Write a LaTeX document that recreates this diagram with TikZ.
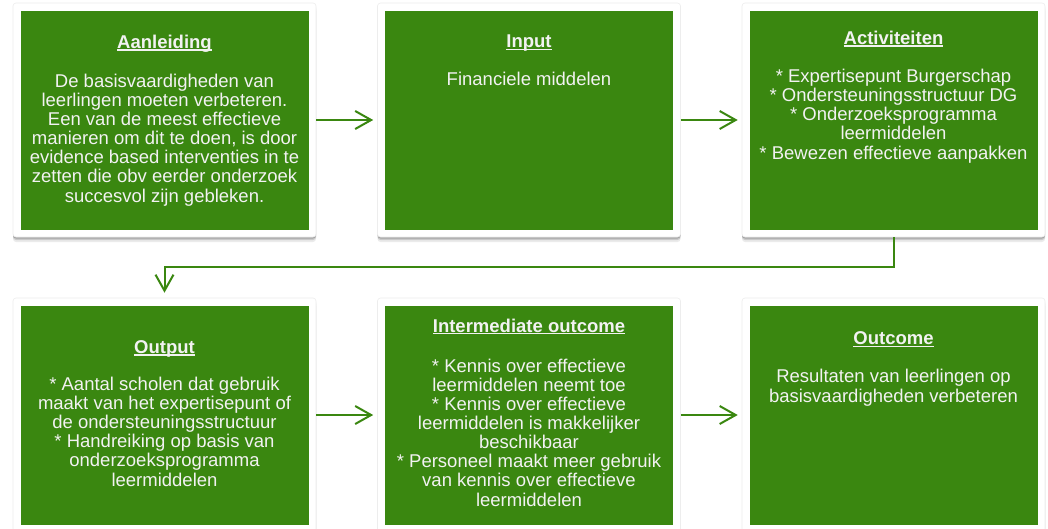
\documentclass[tikz,border=0pt]{standalone}
\usepackage{fontspec}
\setmainfont{Liberation Sans}
\usetikzlibrary{arrows.meta,shadows}
\definecolor{groen}{RGB}{58,135,16}
\definecolor{tekstwit}{RGB}{242,242,242}
\newsavebox{\kopbox}
\newcommand{\kop}[1]{\sbox{\kopbox}{\textbf{#1}}%
  \rlap{\rule[-2.2pt]{\wd\kopbox}{1.3pt}}\usebox{\kopbox}}
\tikzset{>={Straight Barb[length=16pt,width=18pt]}}

\begin{document}
\begin{tikzpicture}[x=1pt,y=-1pt,
  kader/.style={fill=white, draw=black!7, line width=0.6pt, rounded corners=3pt,
    minimum width=303pt, minimum height=234pt, inner sep=0pt,
    drop shadow={shadow xshift=0pt, shadow yshift=-1.5pt, opacity=0.18, fill=black},
    drop shadow={shadow xshift=0pt, shadow yshift=-3pt, opacity=0.14, fill=black},
    drop shadow={shadow xshift=0pt, shadow yshift=-5pt, opacity=0.08, fill=black}},
  vak/.style={fill=groen, minimum width=288pt, minimum height=219pt, inner sep=0pt},
  tekst/.style={text=tekstwit, align=center, anchor=base, inner sep=0pt,
    font=\fontsize{18.5}{19.1}\selectfont},
  pijl/.style={->, draw=groen, line width=2pt}]
\useasboundingbox (0,0) rectangle (1048,528);
\fill[white] (0,0) rectangle (1048,528);

% bovenste rij
\node[kader] (k1) at (164.5,120) {};
\node[vak] (v1) at (k1) {};
\node[kader] (k2) at (529,120) {};
\node[vak] (v2) at (k2) {};
\node[kader] (k3) at (893.5,120) {};
\node[vak] (v3) at (k3) {};

% onderste rij
\node[kader] (k4) at (164.5,415) {};
\node[vak] (v4) at (k4) {};
\node[kader] (k5) at (529,415) {};
\node[vak] (v5) at (k5) {};
\node[kader] (k6) at (893.5,415) {};
\node[vak] (v6) at (k6) {};

% teksten (onderste regel op de basislijn)
\node[tekst] (t1) at (164.5,202) {\kop{Aanleiding}\\[20pt]
  De basisvaardigheden van\\ leerlingen moeten verbeteren.\\
  Een van de meest effectieve\\ manieren om dit te doen, is door\\
  evidence based interventies in te\\ zetten die obv eerder onderzoek\\
  succesvol zijn gebleken.};
\node[tekst] (t2) at (529,85) {\kop{Input}\\[18pt] Financiele middelen};
\node[tekst] (t3) at (893.5,159) {\kop{Activiteiten}\\[19pt]
  * Expertisepunt Burgerschap\\ * Ondersteuningsstructuur DG\\
  * Onderzoeksprogramma\\ leermiddelen\\ * Bewezen effectieve aanpakken};
\node[tekst] (t4) at (164.5,486) {\kop{Output}\\[18pt]
  * Aantal scholen dat gebruik\\ maakt van het expertisepunt of\\
  de ondersteuningsstructuur\\ * Handreiking op basis van\\
  onderzoeksprogramma\\ leermiddelen};
\node[tekst] (t5) at (529,506) {\kop{Intermediate outcome}\\[21pt]
  * Kennis over effectieve\\ leermiddelen neemt toe\\
  * Kennis over effectieve\\ leermiddelen is makkelijker\\ beschikbaar\\
  * Personeel maakt meer gebruik\\ van kennis over effectieve\\ leermiddelen};
\node[tekst] (t6) at (893.5,402) {\kop{Outcome}\\[19pt]
  Resultaten van leerlingen op\\ basisvaardigheden verbeteren};

% pijlen
\draw[pijl, shorten >=4pt] (k1.east) -- (k2.west);
\draw[pijl, shorten >=4pt] (k2.east) -- (k3.west);
\draw[pijl, shorten >=5pt] (k3.south) -- ++(0,30) -| (k4.north);
\draw[pijl, shorten >=4pt] (k4.east) -- (k5.west);
\draw[pijl, shorten >=4pt] (k5.east) -- (k6.west);
\end{tikzpicture}
\end{document}
